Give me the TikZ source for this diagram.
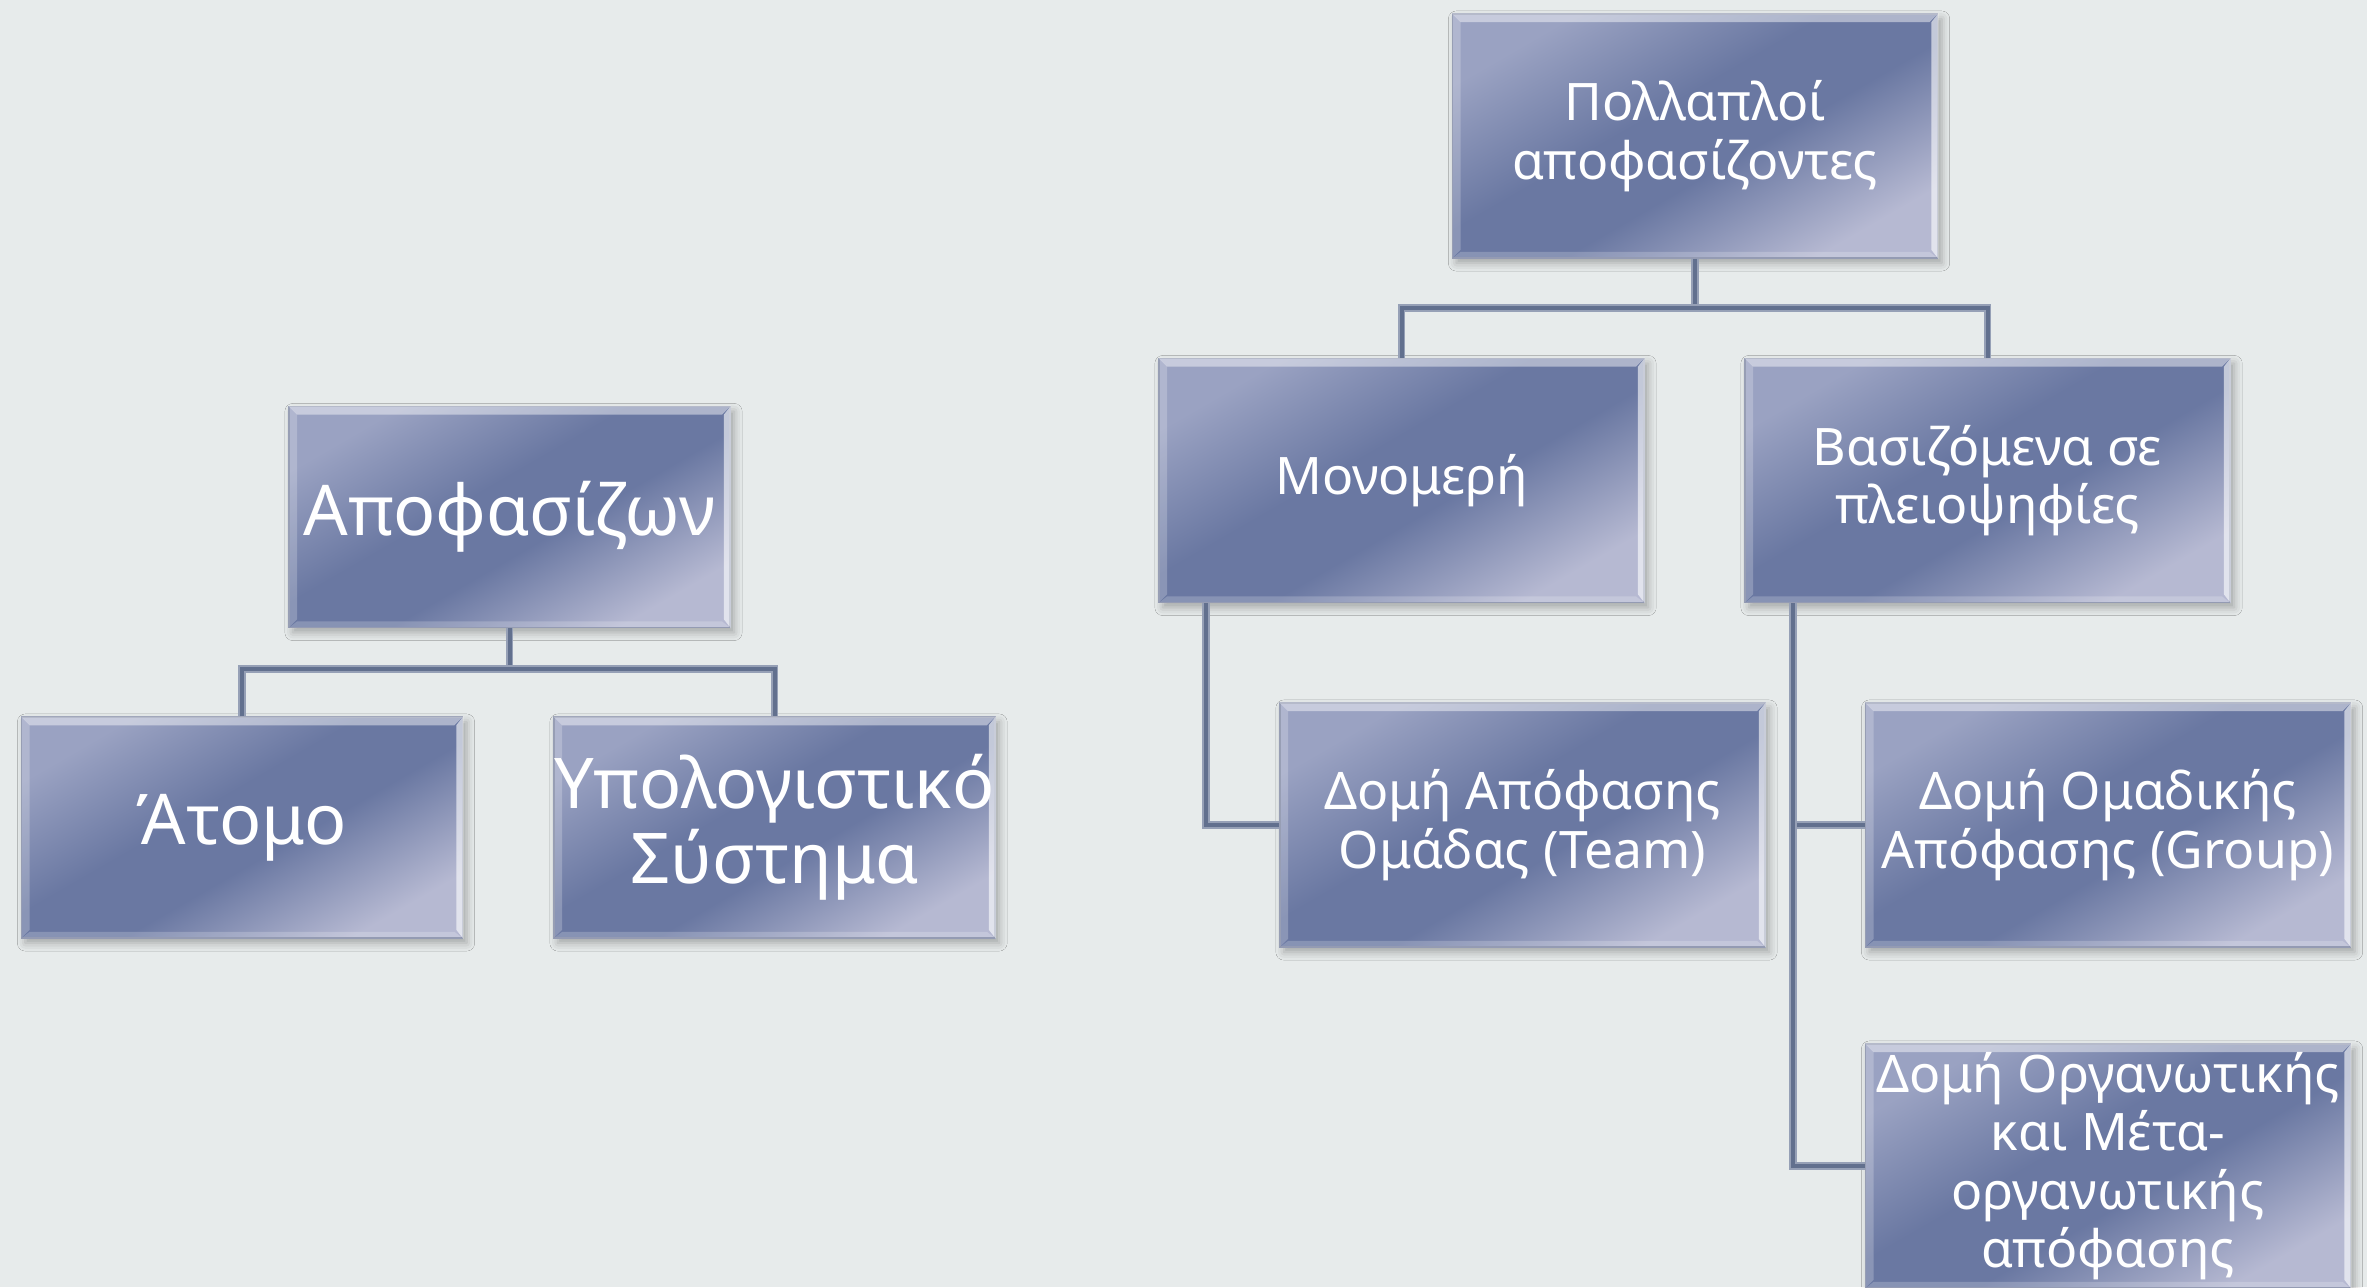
\documentclass[tikz,border=0pt]{standalone}
\usepackage{fontspec}
\setmainfont{Noto Sans}
\usetikzlibrary{shadows.blur}

\definecolor{pagebg}{RGB}{231,235,235}
\definecolor{shTop}{RGB}{154,162,194}
\definecolor{shMid}{RGB}{106,120,162}
\definecolor{shBot}{RGB}{182,185,210}
\definecolor{edgeline}{RGB}{122,131,160}
\definecolor{linkouter}{RGB}{150,160,182}
\definecolor{linkinner}{RGB}{98,112,142}

% diagonal body gradient of the boxes
\pgfdeclareverticalshading{boxgrad}{100bp}{%
  color(0bp)=(shBot); color(25bp)=(shBot); color(44bp)=(shMid);
  color(56bp)=(shMid); color(75bp)=(shTop); color(100bp)=(shTop)}

\tikzset{
  box/.style={rectangle, shading=boxgrad, shading angle=30,
    draw=edgeline, line width=0.4pt, text=white, align=center, inner sep=0pt,
    blur shadow={shadow xshift=0.04cm, shadow yshift=-0.05cm,
      shadow blur radius=0.08cm, shadow opacity=30}},
  bigbox/.style={box, minimum width=4.41cm, minimum height=2.21cm,
    font=\fontsize{19.9}{21.3}\selectfont},
  smallbox/.style={box, minimum width=4.85cm, minimum height=2.44cm,
    font=\fontsize{14.7}{16.6}\selectfont},
  link/.style={line width=0.075cm, draw=linkouter,
    postaction={draw=linkinner, line width=0.04cm}},
}

\begin{document}
\begin{tikzpicture}[x=0.01cm, y=-0.01cm]
  \fill[pagebg] (0,0) rectangle (2367,1287);
  \useasboundingbox (0,0) rectangle (2367,1287);

  % single decision maker
  \node[bigbox] (dm) at (509.5,517) {Αποφασίζων};
  \node[bigbox] (at) at (242,827.5) {Άτομο};
  \node[bigbox] (ys) at (774.5,827.5) {Υπολογιστικό\\Σύστημα};

  % multiple decision makers
  \node[smallbox] (pd) at (1695,136) {Πολλαπλοί\\αποφασίζοντες};
  \node[smallbox] (mm) at (1401.5,480.5) {Μονομερή};
  \node[smallbox] (vs) at (1987.5,480.5) {Βασιζόμενα σε\\πλειοψηφίες};
  \node[smallbox] (tm) at (1522.5,825) {Δομή Απόφασης\\Ομάδας (Team)};
  \node[smallbox] (gr) at (2108,825) {Δομή Ομαδικής\\Απόφασης (Group)};
  \node[smallbox] (or) at (2108,1166) {Δομή Οργανωτικής\\και Μέτα-\\οργανωτικής\\απόφασης};

  % bevelled edges of every box
  \foreach \n in {dm,at,ys,pd,mm,vs,tm,gr,or} {
    \fill[white, opacity=0.45] (\n.north west) -- (\n.north east)
      -- ([shift={(-9,9)}]\n.north east) -- ([shift={(9,9)}]\n.north west) -- cycle;
    \fill[white, opacity=0.22] (\n.north west) -- ([shift={(9,9)}]\n.north west)
      -- ([shift={(9,-9)}]\n.south west) -- (\n.south west) -- cycle;
    \fill[white, opacity=0.6] (\n.north east) -- ([shift={(-7,9)}]\n.north east)
      -- ([shift={(-7,-9)}]\n.south east) -- (\n.south east) -- cycle;
    \fill[white, opacity=0.2] (\n.south west) -- ([shift={(9,-7)}]\n.south west)
      -- ([shift={(-9,-7)}]\n.south east) -- (\n.south east) -- cycle;
  }

  % connectors, left tree
  \coordinate (lbus) at (509.5,669);
  \draw[link] (dm.south) -- (lbus);
  \draw[link] (at.north) |- (lbus) -| (ys.north);

  % connectors, right tree
  \coordinate (rbus) at (1695,308);
  \draw[link] (pd.south) -- (rbus);
  \draw[link] (mm.north) |- (rbus) -| (vs.north);
  \draw[link] ([xshift=0.48cm]mm.south west) |- (tm.west);
  \draw[link] ([xshift=0.49cm]vs.south west) |- (gr.west);
  \draw[link] ([xshift=0.49cm]vs.south west) |- (or.west);
\end{tikzpicture}
\end{document}
